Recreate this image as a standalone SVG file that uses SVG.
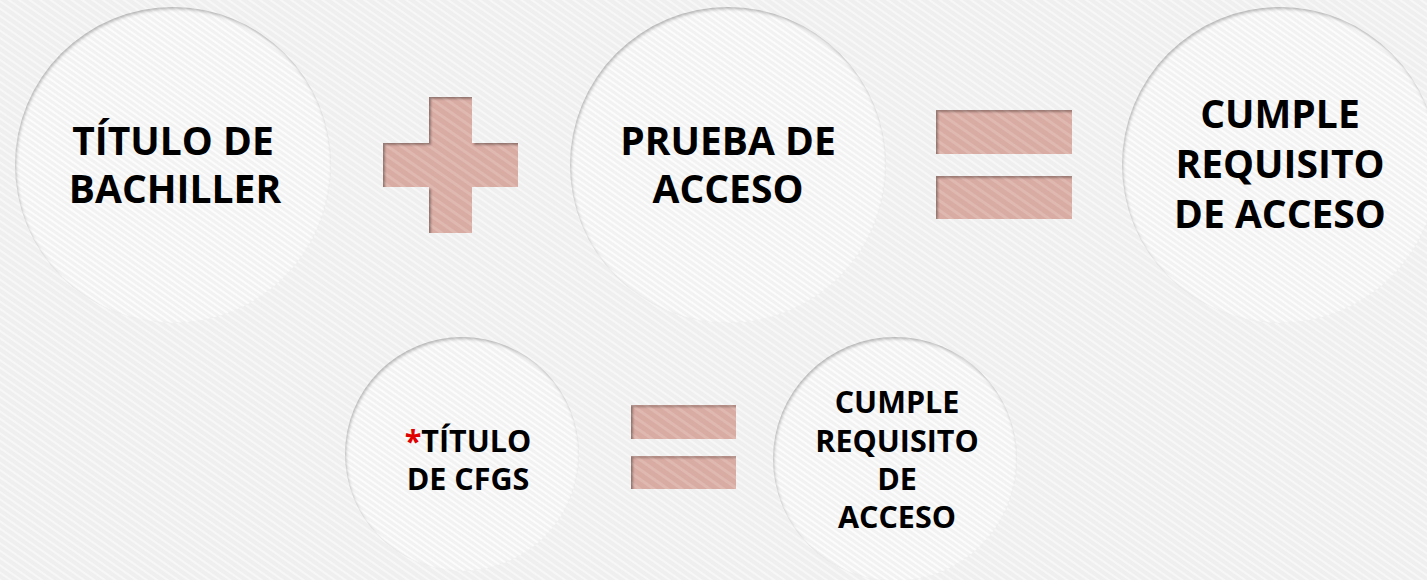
<svg xmlns="http://www.w3.org/2000/svg" width="1427" height="580" viewBox="0 0 1427 580">
<defs>
<pattern id="bgtex" width="6" height="6" patternUnits="userSpaceOnUse" patternTransform="rotate(35)">
<rect width="6" height="6" fill="#efefef"/>
<rect width="6" height="2" fill="#f7f7f7"/>
</pattern>
<pattern id="ctex" width="5" height="5" patternUnits="userSpaceOnUse" patternTransform="rotate(35)">
<rect width="5" height="5" fill="#f2f2f2"/>
<rect width="5" height="2" fill="#fcfcfc"/>
</pattern>
<pattern id="stex" width="8" height="8" patternUnits="userSpaceOnUse" patternTransform="rotate(35)">
<rect width="8" height="8" fill="#d8aba3"/>
<rect width="8" height="3" fill="#dfb8b0"/>
</pattern>
<filter id="inner" x="-5%" y="-5%" width="110%" height="110%">
<feFlood flood-color="#000" flood-opacity="0.6" result="f"/>
<feComposite in="f" in2="SourceAlpha" operator="out" result="o"/>
<feGaussianBlur in="o" stdDeviation="1.2" result="b"/>
<feOffset in="b" dx="1.5" dy="1.5" result="sh"/>
<feComposite in="sh" in2="SourceAlpha" operator="in" result="ish"/>
<feMerge><feMergeNode in="SourceGraphic"/><feMergeNode in="ish"/></feMerge>
</filter>
<filter id="innerc" x="-5%" y="-5%" width="110%" height="110%">
<feFlood flood-color="#000" flood-opacity="0.5" result="f"/>
<feComposite in="f" in2="SourceAlpha" operator="out" result="o"/>
<feGaussianBlur in="o" stdDeviation="1.6" result="b"/>
<feOffset in="b" dx="1" dy="1.5" result="sh"/>
<feComposite in="sh" in2="SourceAlpha" operator="in" result="ish"/>
<feMerge><feMergeNode in="SourceGraphic"/><feMergeNode in="ish"/></feMerge>
</filter>
</defs>
<style>
.c{fill:url(#ctex);filter:url(#innerc)}
.s{fill:url(#stex);filter:url(#inner)}
.t{font-family:"Open Sans","Liberation Sans",sans-serif;font-weight:bold;fill:#000;text-anchor:middle}
.big{font-size:39px}
.sm{font-size:30.5px}
</style>
<rect width="1427" height="580" fill="url(#bgtex)"/>
<g id="connectors"></g>
<g id="n-bachiller">
<circle class="c" cx="173" cy="165" r="158"/>
<text class="t big" x="173" y="155">TÍTULO DE</text>
<text class="t big" x="175" y="203">BACHILLER</text>
</g>
<g id="plus">
<path class="s" d="M429 97H472V143H518V187H472V233H429V187H383V143H429Z"/>
</g>
<g id="n-prueba">
<circle class="c" cx="728" cy="165" r="158"/>
<text class="t big" x="728" y="155">PRUEBA DE</text>
<text class="t big" x="728" y="203">ACCESO</text>
</g>
<g id="eq1">
<rect class="s" x="936" y="110" width="136" height="44"/>
<rect class="s" x="936" y="176" width="136" height="43"/>
</g>
<g id="n-cumple1">
<circle class="c" cx="1280" cy="165" r="158"/>
<text class="t big" x="1280" y="128">CUMPLE</text>
<text class="t big" x="1280" y="178">REQUISITO</text>
<text class="t big" x="1280" y="228">DE ACCESO</text>
</g>
<g id="n-cfgs">
<circle class="c" cx="462" cy="454" r="117"/>
<text class="t sm" x="468" y="452"><tspan fill="#e00000">*</tspan>TÍTULO</text>
<text class="t sm" x="468" y="490">DE CFGS</text>
</g>
<g id="eq2">
<rect class="s" x="631" y="405" width="105" height="34"/>
<rect class="s" x="631" y="456" width="105" height="33"/>
</g>
<g id="n-cumple2">
<circle class="c" cx="895" cy="459" r="122"/>
<text class="t sm" x="897" y="413">CUMPLE</text>
<text class="t sm" x="897" y="452">REQUISITO</text>
<text class="t sm" x="897" y="490">DE</text>
<text class="t sm" x="897" y="528">ACCESO</text>
</g>
</svg>
